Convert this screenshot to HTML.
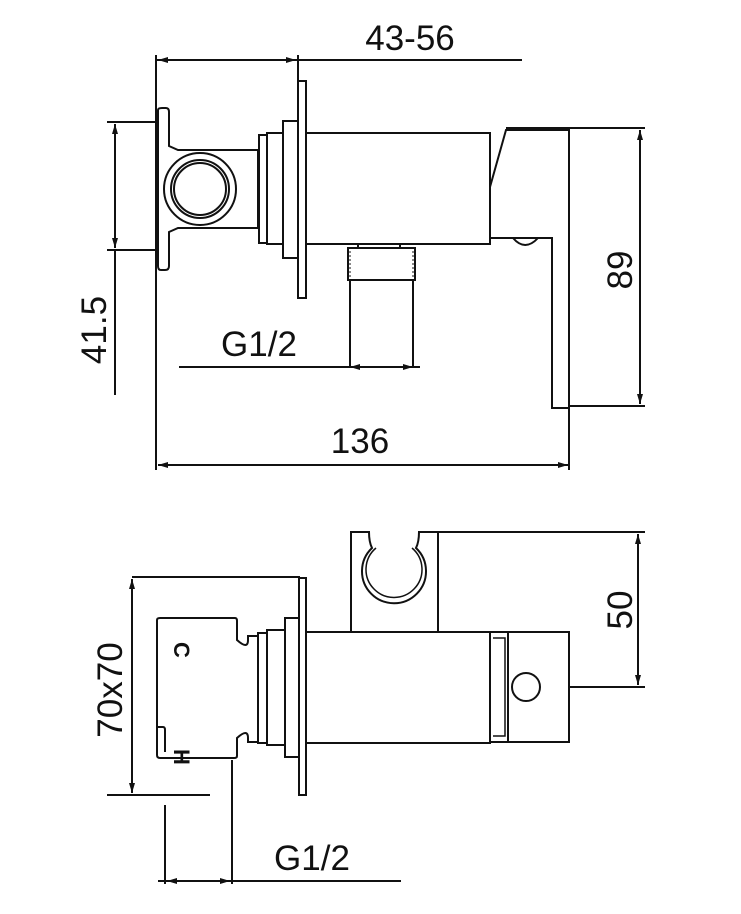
<!DOCTYPE html>
<html><head><meta charset="utf-8"><style>
html,body{margin:0;padding:0;background:#fff;}
svg{display:block;}
text{font-family:"Liberation Sans",sans-serif;fill:#111;}
</style></head><body>
<svg width="741" height="914" viewBox="0 0 741 914" xmlns="http://www.w3.org/2000/svg">
<defs>
<marker id="a" viewBox="0 0 10 6" refX="10" refY="3" markerWidth="10" markerHeight="6" orient="auto-start-reverse" markerUnits="userSpaceOnUse">
<path d="M0,0 L10,3 L0,6 z" fill="#111"/></marker>
</defs>
<g fill="none" stroke="#111" stroke-width="2">
<line x1="156" y1="60" x2="522" y2="60"/>
<line x1="158" y1="60" x2="296" y2="60" marker-start="url(#a)" marker-end="url(#a)"/>
<line x1="156" y1="55" x2="156" y2="470"/>
<line x1="298" y1="55" x2="298" y2="82"/>
<line x1="158" y1="465" x2="568" y2="465" marker-start="url(#a)" marker-end="url(#a)"/>
<line x1="569" y1="130" x2="569" y2="470"/>
<line x1="506" y1="128" x2="645" y2="128"/>
<line x1="569" y1="406" x2="645" y2="406"/>
<line x1="640" y1="130" x2="640" y2="404" marker-start="url(#a)" marker-end="url(#a)"/>
<line x1="107" y1="122" x2="158" y2="122"/>
<line x1="107" y1="250" x2="158" y2="250"/>
<line x1="115" y1="124" x2="115" y2="248" marker-start="url(#a)" marker-end="url(#a)"/>
<line x1="115" y1="250" x2="115" y2="395"/>
<line x1="179" y1="367" x2="420" y2="367"/>
<line x1="350" y1="367" x2="413" y2="367" marker-start="url(#a)" marker-end="url(#a)"/>
<path d="M158,110 Q158,108 162,108 L166,108 Q169,108 169,112 L169,146 L178,150 L258,150 L258,228 L178,228 L169,232 L169,266 Q169,270 165,270 L161,270 Q158,270 158,266 Z"/>
<circle cx="200" cy="189" r="36" fill="#fff"/>
<circle cx="200" cy="189" r="29"/>
<circle cx="200" cy="189" r="26"/>
<rect x="259" y="135" width="8" height="108"/>
<rect x="267" y="133" width="16" height="111"/>
<rect x="283" y="121" width="15" height="137"/>
<rect x="298" y="81" width="8" height="217"/>
<rect x="306" y="133" width="184" height="111"/>
<path d="M490,187 L506,130 L569,130 L569,408 L552,408 L552,238 L490,238"/>
<path d="M513,238 Q525,252 538,238"/>
<path d="M358,244 L358,248 L400,248 L400,244"/>
<rect x="348" y="248" width="67" height="32"/>
<path d="M348,252 h3 M348,256 h3 M348,260 h3 M348,264 h3 M348,268 h3 M348,272 h3 M348,276 h3 M412,252 h3 M412,256 h3 M412,260 h3 M412,264 h3 M412,268 h3 M412,272 h3 M412,276 h3" stroke-width="1"/>
<line x1="350" y1="280" x2="350" y2="368"/>
<line x1="413" y1="280" x2="413" y2="368"/>

<line x1="132" y1="577" x2="300" y2="577"/>
<line x1="107" y1="795" x2="210" y2="795"/>
<line x1="132" y1="579" x2="132" y2="793" marker-start="url(#a)" marker-end="url(#a)"/>
<rect x="299" y="578" width="7" height="217"/>
<path d="M157,620 Q157,618 160,618 L235,618 Q237,618 237,621 L237,640 Q248,650 248,640 L248,636 L258,636 L258,742 L248,742 L248,738 Q248,728 237,738 L237,756 Q237,758 234,758 L160,758 Q157,758 157,755 Z"/>
<path d="M157,727 L163,727 Q165,727 165,730 L165,752"/>
<rect x="258" y="633" width="9" height="110"/>
<rect x="267" y="630" width="18" height="115"/>
<rect x="285" y="618" width="14" height="139"/>
<rect x="306" y="632" width="184" height="111"/>
<path d="M351,632 L351,532 L369,532 Q369,542 372,548 A32,32 0 1 0 416,548 Q419,542 419,532 L438,532 L438,632"/>
<path d="M376,548 A28,28 0 1 0 412,548" stroke-width="1.5"/>
<rect x="490" y="632" width="18" height="110"/>
<path d="M493,638 L505,638 L505,736 L493,736" stroke-width="1.5"/>
<rect x="508" y="632" width="61" height="110"/>
<circle cx="526" cy="687" r="14"/>
<line x1="438" y1="532" x2="645" y2="532"/>
<line x1="569" y1="687" x2="645" y2="687"/>
<line x1="638" y1="534" x2="638" y2="685" marker-start="url(#a)" marker-end="url(#a)"/>
<line x1="165" y1="805" x2="165" y2="884"/>
<line x1="232" y1="760" x2="232" y2="884"/>
<line x1="158" y1="881" x2="401" y2="881"/>
<line x1="167" y1="881" x2="230" y2="881" marker-start="url(#a)" marker-end="url(#a)"/>
</g>
<g font-size="22" font-weight="bold"><text x="190" y="640" transform="rotate(90 181 633)">C</text>
<text x="190" y="747" transform="rotate(90 181 740)">H</text></g>
<g font-size="35">
<text x="410" y="50" text-anchor="middle">43-56</text>
<text x="360" y="453" text-anchor="middle">136</text>
<text x="259" y="356" text-anchor="middle">G1/2</text>
<text x="312" y="870" text-anchor="middle">G1/2</text>
<text transform="translate(632,270) rotate(-90)" text-anchor="middle">89</text>
<text transform="translate(106,330) rotate(-90)" text-anchor="middle">41.5</text>
<text transform="translate(632,610) rotate(-90)" text-anchor="middle">50</text>
<text transform="translate(122,690) rotate(-90)" text-anchor="middle">70x70</text>
</g>
</svg>
</body></html>
